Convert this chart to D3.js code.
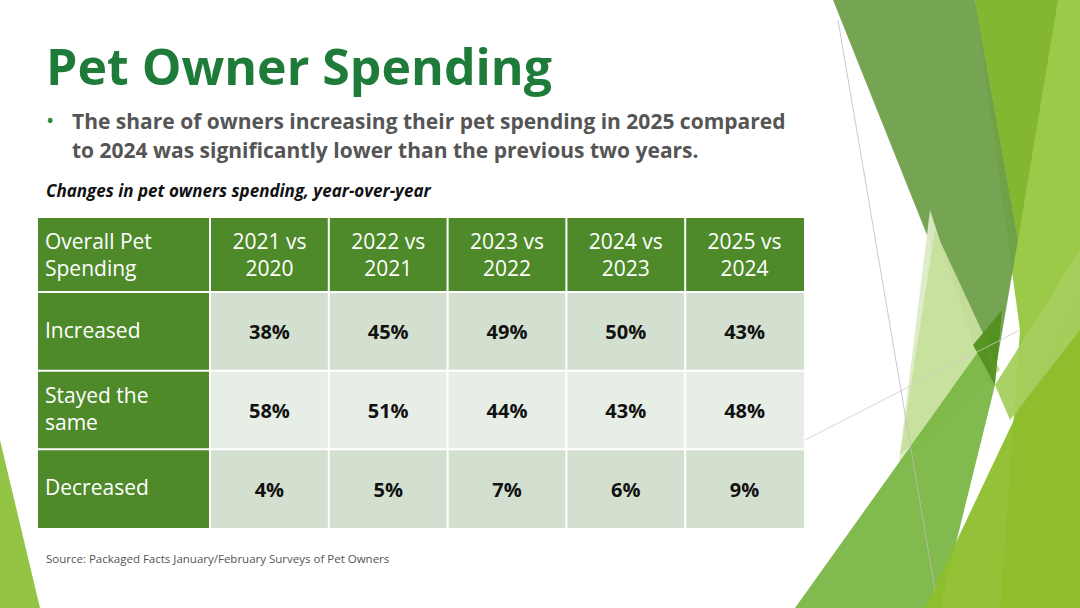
<!DOCTYPE html>
<html><head><meta charset="utf-8">
<script src="https://cdn.jsdelivr.net/npm/d3@7"></script>
<style>body{margin:0;background:#fff}svg{display:block}</style>
</head><body>
<svg id="chart" width="1080" height="608"></svg>
<script>
const periods = ["2021 vs\n2020", "2022 vs\n2021", "2023 vs\n2022", "2024 vs\n2023", "2025 vs\n2024"];
const rowLabels = ["Increased", "Stayed the\nsame", "Decreased"];
const increased = [38, 45, 49, 50, 43];
const stayed = [58, 51, 44, 43, 48];
const decreased = [4, 5, 7, 6, 9];
const series = [increased, stayed, decreased];

const svg = d3.select("#chart");
const font = "'Open Sans', sans-serif";

// background decoration
const deco = [
  { c: "#8dc13a", p: [[0, 440], [40, 608], [0, 608]] },
  { c: "#96c63e", p: [[975, 0], [1080, 0], [1080, 608], [1000, 608], [1020, 330]] },
  { c: "#6e9f4a", p: [[833, 0], [975, 0], [1018, 240], [993, 385], [985, 380]] },
  { c: "#82b632", p: [[975, 0], [1058, 0], [1018, 240]] },
  { c: "#dcebc6", p: [[898, 470], [930, 210], [985, 380], [973, 395]] },
  { c: "#c7e09c", p: [[900, 455], [935, 230], [1000, 370]] },
  { c: "#7ab646", p: [[795, 608], [985, 342], [995, 385], [940, 608]] },
  { c: "#52901f", p: [[973, 345], [1002, 310], [995, 385]] },
  { c: "#8dbe2c", p: [[925, 608], [1080, 280], [1080, 608]] },
  { c: "#a5cf5e", p: [[995, 385], [1080, 250], [1080, 330], [1010, 420]] }
];
svg.append("g").selectAll("polygon").data(deco).join("polygon")
  .attr("points", d => d.p.join(" ")).attr("fill", d => d.c).attr("opacity", 0.95);
svg.append("line").attr("x1", 838).attr("y1", 20).attr("x2", 935).attr("y2", 590)
  .attr("stroke", "#bbb").attr("stroke-width", 0.8);
svg.append("line").attr("x1", 805).attr("y1", 440).attr("x2", 1020).attr("y2", 330)
  .attr("stroke", "#ccc").attr("stroke-width", 0.8);

// titles
svg.append("text").attr("x", 46).attr("y", 85).text("Pet Owner Spending")
  .attr("font-family", font).attr("font-weight", 700).attr("font-size", 50).attr("fill", "#1e7b3a");
svg.append("text").attr("x", 46).attr("y", 128).text("•")
  .attr("font-family", font).attr("font-size", 22).attr("fill", "#2e8a3c");
const sub = svg.append("text").attr("font-family", font).attr("font-weight", 700)
  .attr("font-size", 21).attr("fill", "#555");
sub.append("tspan").attr("x", 72).attr("y", 129).text("The share of owners increasing their pet spending in 2025 compared");
sub.append("tspan").attr("x", 72).attr("y", 158).text("to 2024 was significantly lower than the previous two years.");
svg.append("text").attr("x", 46).attr("y", 197).text("Changes in pet owners spending, year-over-year")
  .attr("font-family", font).attr("font-weight", 700).attr("font-style", "italic")
  .attr("font-size", 17).attr("fill", "#111");

// table
const x = d3.scaleBand().domain(d3.range(periods.length)).range([210, 804]);
const y = d3.scaleBand().domain(d3.range(rowLabels.length)).range([292, 528]);
const tLeft = 38, tTop = 218;
const green = "#4e8a2a";
const cellFill = ["#d3e0cf", "#e7eee5", "#d3e0cf"];

const g = svg.append("g");
g.append("rect").attr("x", tLeft).attr("y", tTop).attr("width", 804 - tLeft).attr("height", 292 - tTop).attr("fill", green);
g.append("rect").attr("x", tLeft).attr("y", 292).attr("width", 210 - tLeft).attr("height", 528 - 292).attr("fill", green);

function multiline(sel, str, cx, cy, anchor, size, color, weight) {
  const lines = str.split("\n");
  const t = sel.append("text").attr("text-anchor", anchor).attr("font-family", font)
    .attr("font-size", size).attr("fill", color).attr("font-weight", weight);
  lines.forEach((l, i) => t.append("tspan").attr("x", cx)
    .attr("y", cy + (i - (lines.length - 1) / 2) * size * 1.3 + size * 0.35).text(l));
}
multiline(g, "Overall Pet\nSpending", 45, 255, "start", 21, "#fff", 500);
periods.forEach((p, i) => multiline(g, p, x(i) + x.bandwidth() / 2, 255, "middle", 21, "#fff", 500));

rowLabels.forEach((r, j) => {
  multiline(g, r, 45, y(j) + y.bandwidth() / 2 - 1, "start", 21, "#fff", 500);
  series[j].forEach((v, i) => {
    g.append("rect").attr("x", x(i)).attr("y", y(j)).attr("width", x.bandwidth()).attr("height", y.bandwidth())
      .attr("fill", cellFill[j]);
    g.append("text").attr("x", x(i) + x.bandwidth() / 2).attr("y", y(j) + y.bandwidth() / 2 + 8)
      .attr("text-anchor", "middle").attr("font-family", font).attr("font-weight", 700)
      .attr("font-size", 20).attr("fill", "#111").text(v + "%");
  });
});
const grid = g.append("g").attr("stroke", "#fff").attr("stroke-width", 2);
[210].concat(d3.range(1, periods.length).map(i => x(i))).forEach(v =>
  grid.append("line").attr("x1", v).attr("x2", v).attr("y1", tTop).attr("y2", 528));
d3.range(rowLabels.length).map(j => y(j)).forEach(v =>
  grid.append("line").attr("x1", tLeft).attr("x2", 804).attr("y1", v).attr("y2", v));

svg.append("text").attr("x", 46).attr("y", 563).text("Source: Packaged Facts January/February Surveys of Pet Owners")
  .attr("font-family", font).attr("font-size", 11.5).attr("fill", "#555");
</script>
</body></html>
